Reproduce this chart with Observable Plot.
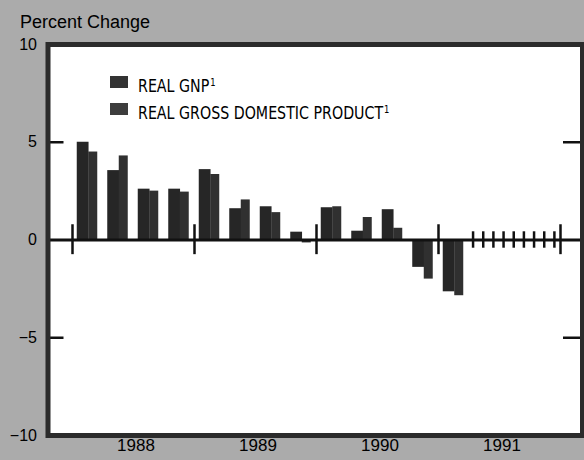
<!DOCTYPE html>
<html>
<head>
<meta charset="utf-8">
<script src="https://cdn.jsdelivr.net/npm/d3@7"></script>
<script src="https://cdn.jsdelivr.net/npm/@observablehq/plot@0.6"></script>
<style>
  html, body { margin: 0; padding: 0; background: #ababab; }
  #wrap { position: relative; width: 584px; height: 460px; overflow: hidden; }
  #wrap svg { position: absolute; left: 0; top: 0; }
  .t { position: absolute; white-space: nowrap; color: #000; line-height: 1; }
  .title { left: 20px; top: 12px; font: 18px "Liberation Sans", Arial, sans-serif; }
  .leg { font: 17px "Liberation Sans Narrow", "DejaVu Sans Condensed", "Liberation Sans", sans-serif; font-stretch: condensed; transform: scaleX(0.93); transform-origin: 0 0; }
  .leg sup { font-size: 10px; vertical-align: 0; position: relative; top: -6px; margin-left: 1px; }
  .sq { position: absolute; width: 18px; height: 12px; }
</style>
</head>
<body>
<div id="wrap"></div>
<script>
// ---- data ----
const quarters = ["1988 Q1","1988 Q2","1988 Q3","1988 Q4","1989 Q1","1989 Q2","1989 Q3","1989 Q4","1990 Q1","1990 Q2","1990 Q3","1990 Q4","1991 Q1"];
const realGNP = [5.0, 3.55, 2.6, 2.6, 3.6, 1.6, 1.7, 0.4, 1.65, 0.45, 1.55, -1.4, -2.65];
const realGDP = [4.5, 4.3, 2.5, 2.45, 3.35, 2.05, 1.4, -0.15, 1.7, 1.15, 0.6, -2.0, -2.85];
const seriesNames = ["REAL GNP", "REAL GROSS DOMESTIC PRODUCT"];
const footnoteMark = "1";
const yearTicks = [1988, 1989, 1990, 1991, 1992];
const yearLabels = ["1988", "1989", "1990", "1991"];
const months1991 = [3, 4, 5, 6, 7, 8, 9, 10, 11];
const yTicks = [-10, -5, 0, 5, 10];
const sideTicks = [5, -5];

// ---- derived tables ----
const px = 1 / 122; // one pixel in years
const rows = quarters.map((q, i) => {
  const [yr, qq] = q.split(" Q");
  const c = +yr + (+qq - 0.5) / 4;
  return { q, c, gnp: realGNP[i], gdp: realGDP[i] };
});
const x0 = 1988 - 24.5 * px, x1 = 1992 + 22 * px;
const GNPcol = "#262626", GDPcol = "#303030";

const chart = Plot.plot({
  width: 584,
  height: 460,
  marginLeft: 47.5,
  marginRight: 2,
  marginTop: 44,
  marginBottom: 25,
  style: { background: "transparent", fontFamily: "'Liberation Sans', Arial, sans-serif", fontSize: "16px", color: "#000" },
  x: { domain: [x0, x1], axis: null },
  y: { domain: [-10, 10], ticks: yTicks, tickSize: 0, tickPadding: 11, label: null, tickFormat: d => d < 0 ? "\u2212" + Math.abs(d) : String(d) },
  marks: [
    Plot.frame({ fill: "white", stroke: null }),
    Plot.rectY(rows, { x1: d => d.c - 10.5 * px, x2: d => d.c + 1.3 * px, y1: 0, y2: "gnp", fill: GNPcol }),
    Plot.rectY(rows, { x1: d => d.c + 1 * px, x2: d => d.c + 10 * px, y1: 0, y2: "gdp", fill: GDPcol }),
    Plot.ruleY([0], { stroke: "#111", strokeWidth: 3 }),
    Plot.ruleX(yearTicks, { y1: -0.75, y2: 0.78, stroke: "#111", strokeWidth: 2.5 }),
    Plot.ruleX(months1991, { x: m => 1991 + (m + 0.4) / 12, y1: -0.42, y2: 0.42, stroke: "#111", strokeWidth: 2.5 }),
    Plot.ruleY(sideTicks, { x1: x0, x2: x0 + 16 * px, stroke: "#111", strokeWidth: 2.5 }),
    Plot.ruleY(sideTicks, { x1: x1 - 19 * px, x2: x1, stroke: "#111", strokeWidth: 2.5 }),
    Plot.frame({ stroke: "#2b2b2b", strokeWidth: 5 }),
    Plot.text(yearLabels, { x: d => +d + 0.52, text: d => d, frameAnchor: "bottom", dy: 15, fontSize: 17, fill: "#000" })
  ]
});

const wrap = document.getElementById("wrap");
wrap.appendChild(chart);

const title = document.createElement("div");
title.className = "t title";
title.textContent = "Percent Change";
wrap.appendChild(title);

const legCols = ["#333333", "#3d3d3d"];
seriesNames.forEach((name, i) => {
  const sq = document.createElement("div");
  sq.className = "sq";
  sq.style.left = "110px";
  sq.style.top = (76 + i * 27) + "px";
  sq.style.background = legCols[i];
  wrap.appendChild(sq);
  const t = document.createElement("div");
  t.className = "t leg";
  t.style.left = "138px";
  t.style.top = (75.5 + i * 27) + "px";
  t.textContent = name;
  const s = document.createElement("sup");
  s.textContent = footnoteMark;
  t.appendChild(s);
  wrap.appendChild(t);
});
</script>
</body>
</html>
